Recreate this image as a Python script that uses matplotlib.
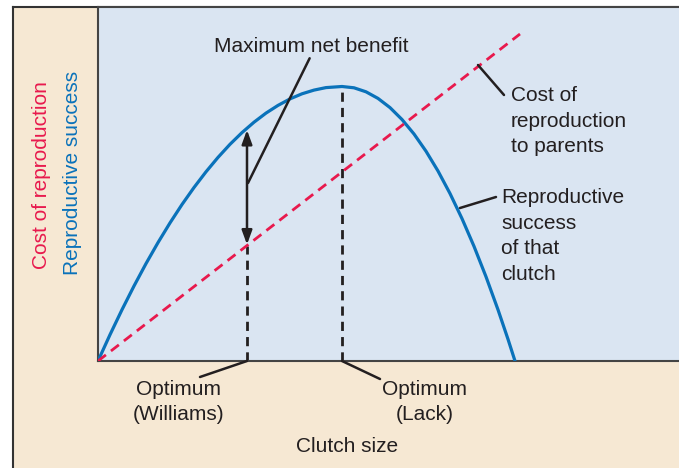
import matplotlib
matplotlib.use("Agg")
import matplotlib.pyplot as plt
from matplotlib.patches import Rectangle
from matplotlib.lines import Line2D

plt.rcParams["font.family"] = ["Liberation Sans", "DejaVu Sans"]

# reproductive success curve (clutch size, success), arbitrary units
clutch = [0, 1.2, 2.4, 3.6, 4.8, 6.0, 7.2, 8.4, 9.6, 10.8, 12.0, 13.2, 14.4, 15.6,
          16.8, 18.0, 19.2, 20.4, 21.6, 22.8, 24.4, 25.6, 26.8, 28.0, 29.2, 30.4,
          31.6, 32.8, 34.0, 35.2, 36.4, 37.6, 38.8, 40.0, 41.0, 41.7]
success = [0, 2.63, 5.13, 7.5, 9.74, 11.84, 13.81, 15.65, 17.35, 18.92, 20.36, 21.67,
           22.84, 23.88, 24.79, 25.56, 26.21, 26.72, 27.09, 27.34, 27.45, 27.32, 26.92,
           26.26, 25.34, 24.15, 22.70, 20.98, 19.00, 16.75, 14.24, 11.47, 8.43, 5.13,
           2.18, 0]

# cost of reproduction (straight line)
cost_x = [0, 42.2]
cost_y = [0, 32.7]

# optima
williams_x = 14.9
williams_cost = 11.55
williams_success = 23.2
lack_x = 24.4
lack_success = 27.45

ink = "#231f20"
blue = "#0a72ba"
red = "#e8194d"
beige = "#f6e8d3"
panel = "#dae5f2"

fig = plt.figure(figsize=(6.79, 4.68), dpi=100)
fig.patch.set_facecolor("white")

# beige frame behind the chart
left_px, top_px = 13, 6.5
fx0 = left_px / 679
fy1 = 1 - top_px / 468
fig.patches.append(Rectangle((fx0, 0), 1 - fx0, fy1, transform=fig.transFigure,
                             facecolor=beige, edgecolor="none", zorder=-2))
fig.lines.append(Line2D([fx0, fx0], [0, fy1], transform=fig.transFigure, color="#333333",
                        lw=1.5, zorder=-1))
fig.lines.append(Line2D([fx0, 1], [fy1, fy1], transform=fig.transFigure, color="#333333",
                        lw=1.5, zorder=-1))

ax = fig.add_axes([98 / 679, 1 - 361 / 468, 1 - 98 / 679, (361 - top_px) / 468])
ax.set_zorder(1)
ax.set_facecolor(panel)
ax.set_xlim(0, 58.1)
ax.set_ylim(0, 35.45)
ax.set_xticks([])
ax.set_yticks([])
ax.spines["right"].set_visible(False)
for s in ["left", "bottom", "top"]:
    ax.spines[s].set_color("#444444")
    ax.spines[s].set_linewidth(1.5)

ax.plot(clutch, success, color=blue, lw=2.3, solid_capstyle="round",
        solid_joinstyle="round", zorder=3)
ax.plot(cost_x, cost_y, color=red, lw=2, linestyle=(0, (3.6, 2.3)), zorder=3)

# vertical dashed optimum lines
ax.plot([williams_x, williams_x], [0, williams_cost], color=ink, lw=2,
        linestyle=(0, (3.3, 2.2)), zorder=2)
ax.plot([lack_x, lack_x], [0, lack_success], color=ink, lw=2,
        linestyle=(0, (3.3, 2.2)), zorder=2)

# double arrow for maximum net benefit
ax.annotate("", xy=(williams_x, williams_success - 0.1), xytext=(williams_x, williams_cost + 0.1),
            arrowprops=dict(arrowstyle="<|-|>,head_length=0.6,head_width=0.22", color=ink,
                            lw=1.8, mutation_scale=14, shrinkA=0, shrinkB=0), zorder=4)

fs = 15
ls = 1.45
ax.annotate("Maximum net benefit", xy=(15.0, 17.8), xytext=(21.3, 31.5),
            ha="center", va="center", fontsize=fs, color=ink,
            arrowprops=dict(arrowstyle="-", color=ink, lw=1.8, shrinkA=0, shrinkB=0,
                            relpos=(0.5, 0)))
ax.annotate("", xy=(38.0, 29.6), xytext=(40.6, 26.6),
            arrowprops=dict(arrowstyle="-", color=ink, lw=1.8, shrinkA=0, shrinkB=0))
ax.text(41.3, 24.0, "Cost of\nreproduction\nto parents", ha="left", va="center",
        fontsize=fs, color=ink, linespacing=ls)
ax.annotate("", xy=(36.2, 15.3), xytext=(39.8, 16.4),
            arrowprops=dict(arrowstyle="-", color=ink, lw=1.8, shrinkA=0, shrinkB=0))
ax.text(40.3, 12.5, "Reproductive\nsuccess\nof that\nclutch", ha="left", va="center",
        fontsize=fs, color=ink, linespacing=ls)

# bottom labels
ax.annotate("", xy=(williams_x, 0), xytext=(10.2, -1.6), annotation_clip=False,
            arrowprops=dict(arrowstyle="-", color=ink, lw=1.8, shrinkA=0, shrinkB=0))
ax.text(8.1, -4.1, "Optimum\n(Williams)", ha="center", va="center", fontsize=fs,
        color=ink, clip_on=False, linespacing=ls)
ax.annotate("", xy=(lack_x, 0), xytext=(28.2, -1.8), annotation_clip=False,
            arrowprops=dict(arrowstyle="-", color=ink, lw=1.8, shrinkA=0, shrinkB=0))
ax.text(32.7, -4.1, "Optimum\n(Lack)", ha="center", va="center", fontsize=fs,
        color=ink, clip_on=False, linespacing=ls)
ax.text(24.9, -8.5, "Clutch size", ha="center", va="center", fontsize=fs,
        color=ink, clip_on=False)

# y labels
fig.text(42 / 679, 1 - 175 / 468, "Cost of reproduction", rotation=90, ha="center",
         va="center", fontsize=fs, color=red)
fig.text(73 / 679, 1 - 173 / 468, "Reproductive success", rotation=90, ha="center",
         va="center", fontsize=fs, color=blue)

fig.savefig("out.png", dpi=100, facecolor=fig.get_facecolor())
